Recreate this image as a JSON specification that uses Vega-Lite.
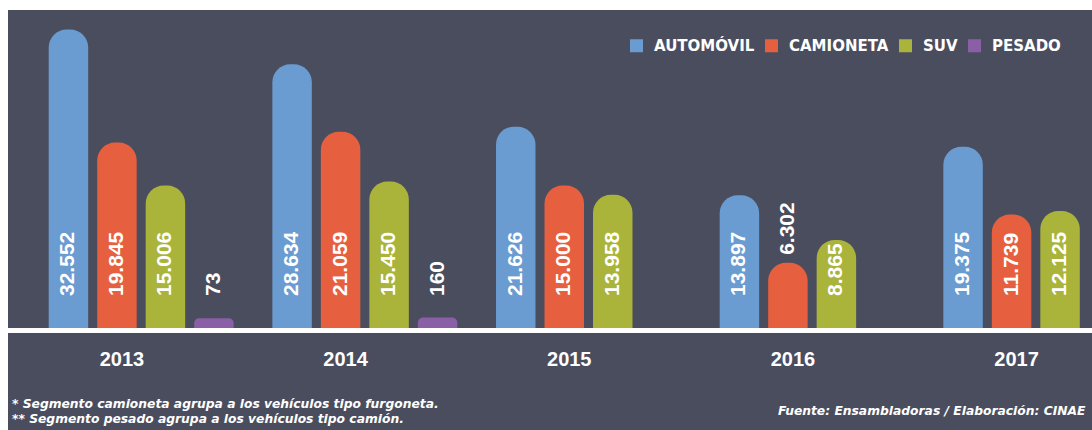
{
  "$schema": "https://vega.github.io/schema/vega-lite/v6.json",
  "width": 1084,
  "height": 420,
  "autosize": {"type": "none"},
  "padding": {"left": 8, "top": 10, "right": 0, "bottom": 0},
  "background": "#ffffff",
  "config": {
    "view": {"stroke": null, "fill": "#4a4d5e"},
    "locale": {"number": {"decimal": ",", "thousands": ".", "grouping": [3], "currency": ["$", ""]}}
  },
  "title": {
    "text": ["* Segmento camioneta agrupa a los vehículos tipo furgoneta.", "** Segmento pesado agrupa a los vehículos tipo camión."],
    "orient": "bottom",
    "anchor": "start",
    "frame": "group",
    "offset": -32,
    "dx": 4,
    "font": "DejaVu Sans",
    "fontSize": 12.3,
    "fontWeight": "bold",
    "fontStyle": "italic",
    "color": "#ffffff",
    "lineHeight": 15
  },
  "data": {
    "values": [
      {"year": "2013", "segment": "AUTOMÓVIL", "value": 32552},
      {"year": "2013", "segment": "CAMIONETA", "value": 19845},
      {"year": "2013", "segment": "SUV", "value": 15006},
      {"year": "2013", "segment": "PESADO", "value": 73},
      {"year": "2014", "segment": "AUTOMÓVIL", "value": 28634},
      {"year": "2014", "segment": "CAMIONETA", "value": 21059},
      {"year": "2014", "segment": "SUV", "value": 15450},
      {"year": "2014", "segment": "PESADO", "value": 160},
      {"year": "2015", "segment": "AUTOMÓVIL", "value": 21626},
      {"year": "2015", "segment": "CAMIONETA", "value": 15000},
      {"year": "2015", "segment": "SUV", "value": 13958},
      {"year": "2016", "segment": "AUTOMÓVIL", "value": 13897},
      {"year": "2016", "segment": "CAMIONETA", "value": 6302},
      {"year": "2016", "segment": "SUV", "value": 8865},
      {"year": "2017", "segment": "AUTOMÓVIL", "value": 19375},
      {"year": "2017", "segment": "CAMIONETA", "value": 11739},
      {"year": "2017", "segment": "SUV", "value": 12125}
    ]
  },
  "layer": [
    {
      "mark": {"type": "bar", "cornerRadiusTopLeft": 18, "cornerRadiusTopRight": 18},
      "encoding": {
        "x": {"field": "year", "type": "nominal", "scale": {"range": [0, 1161], "paddingInner": 0.173, "paddingOuter": 0.182}, "axis": null},
        "xOffset": {"field": "segment", "type": "nominal", "scale": {"domain": ["AUTOMÓVIL", "CAMIONETA", "SUV", "PESADO"], "paddingInner": 0.186, "paddingOuter": 0}},
        "y": {"field": "value", "type": "quantitative", "scale": {"domain": [-12506, 34749], "zero": false, "nice": false}, "axis": null},
        "y2": {"datum": -1029},
        "color": {
          "field": "segment",
          "type": "nominal",
          "scale": {"domain": ["AUTOMÓVIL", "CAMIONETA", "SUV", "PESADO"], "range": ["#6a9bd1", "#e6603f", "#aab43a", "#8a5fa6"]},
          "legend": {
            "orient": "none",
            "legendX": 621,
            "legendY": 28,
            "direction": "horizontal",
            "title": null,
            "symbolType": "square",
            "symbolSize": 169,
            "symbolStrokeWidth": 0,
            "symbolOpacity": 1,
            "labelFont": "DejaVu Sans",
            "labelFontWeight": "bold",
            "labelFontSize": 15,
            "labelColor": "#ffffff",
            "labelOffset": 10,
            "columnPadding": 9,
            "padding": 0,
            "labelLimit": 300
          }
        }
      }
    },
    {
      "mark": {"type": "rule", "color": "#ffffff", "strokeWidth": 3.5},
      "encoding": {"y": {"datum": -1311, "type": "quantitative", "scale": {"domain": [-12506, 34749], "zero": false, "nice": false}}}
    },
    {
      "transform": [{"filter": "datum.value >= 8000 || datum.value < 1000"}],
      "mark": {"type": "text", "angle": 270, "align": "left", "baseline": "middle", "dx": 32, "font": "Liberation Sans", "fontSize": 21, "fontWeight": "bold", "color": "#ffffff"},
      "encoding": {
        "x": {"field": "year", "type": "nominal"},
        "xOffset": {"field": "segment", "type": "nominal"},
        "y": {"datum": -1029, "type": "quantitative"},
        "text": {"field": "value", "type": "quantitative", "format": ",d"}
      }
    },
    {
      "transform": [{"filter": "datum.value < 8000 && datum.value >= 1000"}],
      "mark": {"type": "text", "angle": 270, "align": "left", "baseline": "middle", "dx": 8, "font": "Liberation Sans", "fontSize": 21, "fontWeight": "bold", "color": "#ffffff"},
      "encoding": {
        "x": {"field": "year", "type": "nominal"},
        "xOffset": {"field": "segment", "type": "nominal"},
        "y": {"field": "value", "type": "quantitative"},
        "text": {"field": "value", "type": "quantitative", "format": ",d"}
      }
    },
    {
      "transform": [{"filter": "datum.segment === 'AUTOMÓVIL'"}],
      "mark": {"type": "text", "align": "center", "baseline": "middle", "dy": 32, "dx": 5, "font": "Liberation Sans", "fontSize": 20, "fontWeight": "bold", "color": "#ffffff"},
      "encoding": {
        "x": {"field": "year", "type": "nominal"},
        "xOffset": {"datum": "CAMIONETA", "type": "nominal"},
        "y": {"datum": -1029, "type": "quantitative"},
        "text": {"field": "year", "type": "nominal"}
      }
    },
    {
      "data": {"values": [{"note": "Fuente: Ensambladoras / Elaboración: CINAE"}]},
      "mark": {"type": "text", "align": "left", "baseline": "middle", "dy": 83, "dx": -10, "font": "DejaVu Sans", "fontSize": 12.3, "fontWeight": "bold", "fontStyle": "italic", "color": "#ffffff"},
      "encoding": {
        "x": {"datum": "2016", "type": "nominal"},
        "xOffset": {"datum": "CAMIONETA", "type": "nominal"},
        "y": {"datum": -1029, "type": "quantitative"},
        "text": {"field": "note", "type": "nominal"}
      }
    }
  ]
}
